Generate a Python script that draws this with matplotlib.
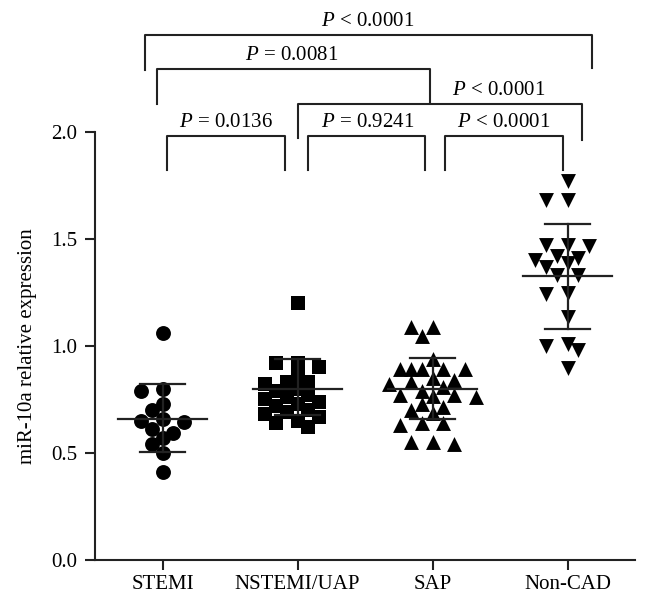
"""Scatter dot plot of miR-10a expression by group with mean/SD and P-value brackets."""

import matplotlib
matplotlib.use("Agg")
import matplotlib.pyplot as plt
import numpy as np

plt.rcParams["font.family"] = ["Liberation Serif", "DejaVu Serif"]
plt.rcParams["mathtext.fontset"] = "custom"
plt.rcParams["mathtext.rm"] = "Liberation Serif"
plt.rcParams["mathtext.it"] = "Liberation Serif:italic"

GROUPS = ["STEMI", "NSTEMI/UAP", "SAP", "Non-CAD"]
MARKERS = ["o", "s", "^", "v"]

STEMI = [1.06, 0.80, 0.79, 0.73, 0.70, 0.66, 0.645, 0.65, 0.61, 0.595, 0.57, 0.54, 0.50, 0.41]
NSTEMI_UAP = [1.20, 0.92, 0.92, 0.90, 0.86, 0.83, 0.83, 0.82, 0.80, 0.79, 0.77, 0.76,
              0.75, 0.74, 0.73, 0.72, 0.70, 0.69, 0.68, 0.67, 0.65, 0.64, 0.62]
SAP = [1.09, 1.09, 1.045, 0.94, 0.89, 0.89, 0.89, 0.89, 0.89, 0.85, 0.84, 0.83, 0.82,
       0.81, 0.79, 0.77, 0.77, 0.765, 0.76, 0.73, 0.715, 0.70, 0.685, 0.64, 0.64, 0.63,
       0.55, 0.54, 0.55]
NON_CAD = [1.77, 1.68, 1.68, 1.47, 1.47, 1.465, 1.42, 1.40, 1.41, 1.385, 1.37, 1.33,
           1.33, 1.245, 1.24, 1.135, 1.0, 1.01, 0.98, 0.895]

MEANS = [0.66, 0.80, 0.80, 1.325]
SD_UPPER = [0.82, 0.94, 0.945, 1.57]
SD_LOWER = [0.505, 0.675, 0.66, 1.08]

# (x_left, x_right, y_bar, y_left_end, y_right_end, label, label_x, label_y)
BRACKETS = [
    (0.867, 4.185, 2.45, 2.287, 2.296, "$P$ < 0.0001", 2.52, 2.515),
    (0.956, 2.978, 2.291, 2.128, 2.137, "$P$ = 0.0081", 1.96, 2.357),
    (2.0, 4.104, 2.128, 1.969, 1.96, "$P$ < 0.0001", 3.49, 2.193),
    (1.03, 1.91, 1.979, 1.82, 1.82, "$P$ = 0.0136", 1.47, 2.045),
    (2.078, 2.948, 1.979, 1.82, 1.82, "$P$ = 0.9241", 2.52, 2.045),
    (3.096, 3.97, 1.979, 1.82, 1.82, "$P$ < 0.0001", 3.53, 2.045),
]


def swarm_offsets(ax, x0, values, step=0.08, min_px=12.0):
    """Place points in discrete columns so markers do not pile up."""
    order = np.argsort(values)[::-1]
    placed = []
    offsets = np.zeros(len(values))
    slots = [0, -1, 1, -2, 2, -3, 3, -4, 4]
    for i in order:
        best, best_gap = 0, -1.0
        for s in slots:
            pt = ax.transData.transform((x0 + s * step, values[i]))
            gap = min((np.hypot(*(pt - q)) for q in placed), default=1e9)
            if gap >= min_px:
                best = s
                break
            if gap > best_gap:
                best, best_gap = s, gap
        offsets[i] = best * step
        placed.append(ax.transData.transform((x0 + best * step, values[i])))
    return offsets


def main() -> None:
    fig = plt.figure(figsize=(6.49, 6.12), dpi=100)
    ax = fig.add_axes([95 / 649, 52 / 612, 540 / 649, 428.3 / 612])
    ax.set_xlim(0.5, 4.5)
    ax.set_ylim(0, 2.0)

    data = [STEMI, NSTEMI_UAP, SAP, NON_CAD]
    for k, (vals, marker) in enumerate(zip(data, MARKERS)):
        x0 = k + 1
        vals = np.array(vals)
        xs = x0 + swarm_offsets(ax, x0, vals)
        ax.scatter(xs, vals, marker=marker, s=115, color="black", zorder=3, linewidths=0)
        ax.plot([x0 - 0.33, x0 + 0.33], [MEANS[k]] * 2, color="#222222", lw=1.6, zorder=4)
        ax.plot([x0, x0], [SD_LOWER[k], SD_UPPER[k]], color="#222222", lw=1.6, zorder=4)
        for y in (SD_LOWER[k], SD_UPPER[k]):
            ax.plot([x0 - 0.165, x0 + 0.165], [y, y], color="#222222", lw=1.6, zorder=4)

    for x1, x2, yb, yl, yr, label, tx, ty in BRACKETS:
        ax.plot([x1, x1, x2, x2], [yl, yb, yb, yr], color="#222222", lw=1.5, clip_on=False)
        ax.text(tx, ty, label, ha="center", va="center", fontsize=15)

    ax.set_xticks(range(1, 5))
    ax.set_xticklabels(GROUPS)
    ax.set_yticks(np.arange(0, 2.01, 0.5))
    ax.set_yticklabels([f"{v:.1f}" for v in np.arange(0, 2.01, 0.5)])
    ax.set_ylabel("miR-10a relative expression", fontsize=15, labelpad=10)
    ax.tick_params(labelsize=15, length=7, width=1.5, color="#222222")
    ax.tick_params(axis="y", pad=6)
    ax.tick_params(axis="x", pad=4)
    for side in ("top", "right"):
        ax.spines[side].set_visible(False)
    for side in ("left", "bottom"):
        ax.spines[side].set_linewidth(1.5)
        ax.spines[side].set_color("#222222")

    fig.savefig("out.png", dpi=100)


if __name__ == "__main__":
    main()
